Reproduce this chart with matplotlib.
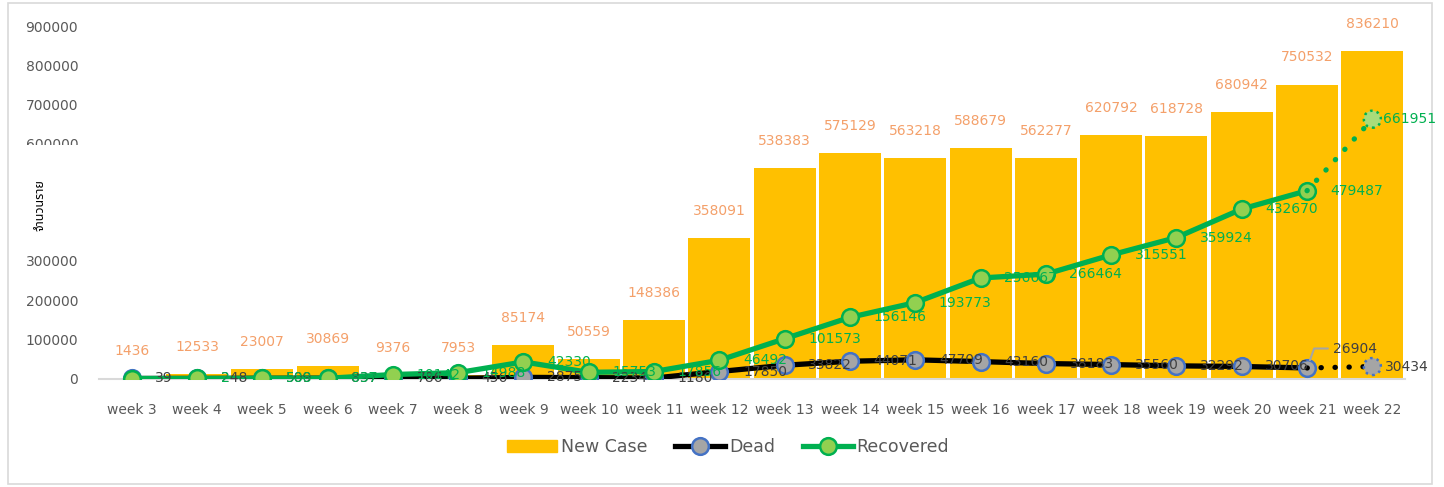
import matplotlib.pyplot as plt
import numpy as np
from matplotlib.lines import Line2D
from matplotlib.patches import Patch, Rectangle

weeks = ["week 3", "week 4", "week 5", "week 6", "week 7", "week 8", "week 9",
         "week 10", "week 11", "week 12", "week 13", "week 14", "week 15",
         "week 16", "week 17", "week 18", "week 19", "week 20", "week 21", "week 22"]
new_case = [1436, 12533, 23007, 30869, 9376, 7953, 85174, 50559, 148386, 358091,
            538383, 575129, 563218, 588679, 562277, 620792, 618728, 680942, 750532, 836210]
dead = [39, 248, 509, 837, 786, 456, 2875, 2234, 1180, 17850,
        33822, 44071, 47709, 43160, 38183, 35560, 32292, 30706, 26904, 30434]
recovered = [0, 2, 588, 637, 10142, 14988, 42330, 15753, 17856, 46492,
             101573, 156146, 193773, 256667, 266464, 315551, 359924, 432670, 479487, 661951]

plt.rcParams['font.family'] = ['DejaVu Sans']
grey_txt = '#595959'

fig = plt.figure(figsize=(14.44, 4.87), dpi=100)
ax = fig.add_axes([99 / 1444, 1 - 378.5 / 487, (1405 - 99) / 1444, (378.5 - 26) / 487])

x = np.arange(len(weeks))
last = len(weeks) - 1

# bars
ax.bar(x, new_case, width=0.95, color='#FFC000', zorder=1)
for i, v in enumerate(new_case):
    ax.annotate(str(v), (i, v), xytext=(0, 19.5), textcoords='offset points',
                ha='center', va='center', color='#F4A06A', fontsize=10, zorder=6)

# dead line (last week dotted = forecast)
ax.plot(x[:-1], dead[:-1], color='black', lw=3.8, marker='o', ms=12,
        mfc='#A5A5A5', mec='#4472C4', mew=1.8, zorder=3)
ax.plot(x[-2:], dead[-2:], color='black', lw=3.8, linestyle=(0, (0.05, 2.6)),
        dash_capstyle='round', zorder=3)
ax.scatter([x[-1]], [dead[-1]], s=150, c='#A5A5A5', edgecolors='#4472C4',
           linewidths=1.8, linestyle=':', zorder=3.5)

# recovered line
ax.plot(x[:-1], recovered[:-1], color='#00B050', lw=3.8, marker='o', ms=12,
        mfc='#92D050', mec='#00B050', mew=1.8, zorder=4)
ax.plot(x[-2:], recovered[-2:], color='#00B050', lw=3.8, linestyle=(0, (0.05, 2.6)),
        dash_capstyle='round', zorder=4)
ax.scatter([x[-1]], [recovered[-1]], s=150, c='#A9DC7A', edgecolors='#00B050',
           linewidths=1.8, linestyle=':', zorder=4.5)

# line labels
for i, v in enumerate(dead):
    if i == last - 1:
        ax.annotate(str(v), (i, v), xytext=(19, 14), textcoords='offset points',
                    ha='left', va='center', color='#404040', fontsize=10, zorder=7,
                    arrowprops=dict(arrowstyle='-', color='#A5A5A5', lw=1.5,
                                    connectionstyle='angle,angleA=0,angleB=70',
                                    shrinkA=2, shrinkB=6))
    else:
        off = 9 if i == last else 17
        ax.annotate(str(v), (i, v), xytext=(off, 0), textcoords='offset points',
                    ha='left', va='center', color='#404040', fontsize=10, zorder=7)
for i, v in enumerate(recovered):
    if i == 0:
        continue
    off = 8 if i == last else 17
    ax.annotate(str(v), (i, v), xytext=(off, 0), textcoords='offset points',
                ha='left', va='center', color='#00B050', fontsize=10, zorder=7)

ax.set_xlim(-0.5, len(weeks) - 0.5)
ax.set_ylim(0, 900000)
ax.set_yticks(np.arange(0, 900001, 100000))
ax.set_xticks(x)
ax.set_xticklabels(weeks)
ax.tick_params(axis='both', length=0, colors=grey_txt, labelsize=10)
ax.tick_params(axis='y', pad=15)
ax.tick_params(axis='x', pad=18)
for s in ['top', 'right', 'left']:
    ax.spines[s].set_visible(False)
ax.spines['bottom'].set_color('#D9D9D9')
ax.spines['bottom'].set_linewidth(1.5)

# box behind the y label hiding some tick labels
fig.add_artist(Rectangle((15 / 1444, 1 - 249 / 487), 80 / 1444, 104 / 487,
                         transform=fig.transFigure, facecolor='white',
                         edgecolor='none', zorder=2))
fig.text(40 / 1444, 1 - 205 / 487, 'จำนวนราย', rotation=90, ha='center', va='center',
         fontsize=9, color='black', zorder=3,
         family=['Noto Sans Thai', 'Tahoma', 'Loma', 'Garuda', 'Waree', 'DejaVu Sans'])

# outer frame
fig.add_artist(Rectangle((8 / 1444, 3 / 487), 1424 / 1444, 481 / 487,
                         transform=fig.transFigure, facecolor='none',
                         edgecolor='#D9D9D9', lw=1.2, zorder=0))

handles = [Patch(color='#FFC000'),
           Line2D([], [], color='black', lw=3.8, marker='o', ms=12,
                  mfc='#A5A5A5', mec='#4472C4', mew=1.8),
           Line2D([], [], color='#00B050', lw=3.8, marker='o', ms=12,
                  mfc='#92D050', mec='#00B050', mew=1.8)]
fig.legend(handles, ['New Case', 'Dead', 'Recovered'], loc='center',
           bbox_to_anchor=(728 / 1444, 1 - 447 / 487), ncol=3, frameon=False,
           fontsize=12.5, labelcolor=grey_txt, handlelength=2.9, handletextpad=0.2,
           columnspacing=1.6)

fig.savefig('out.png', dpi=100)
